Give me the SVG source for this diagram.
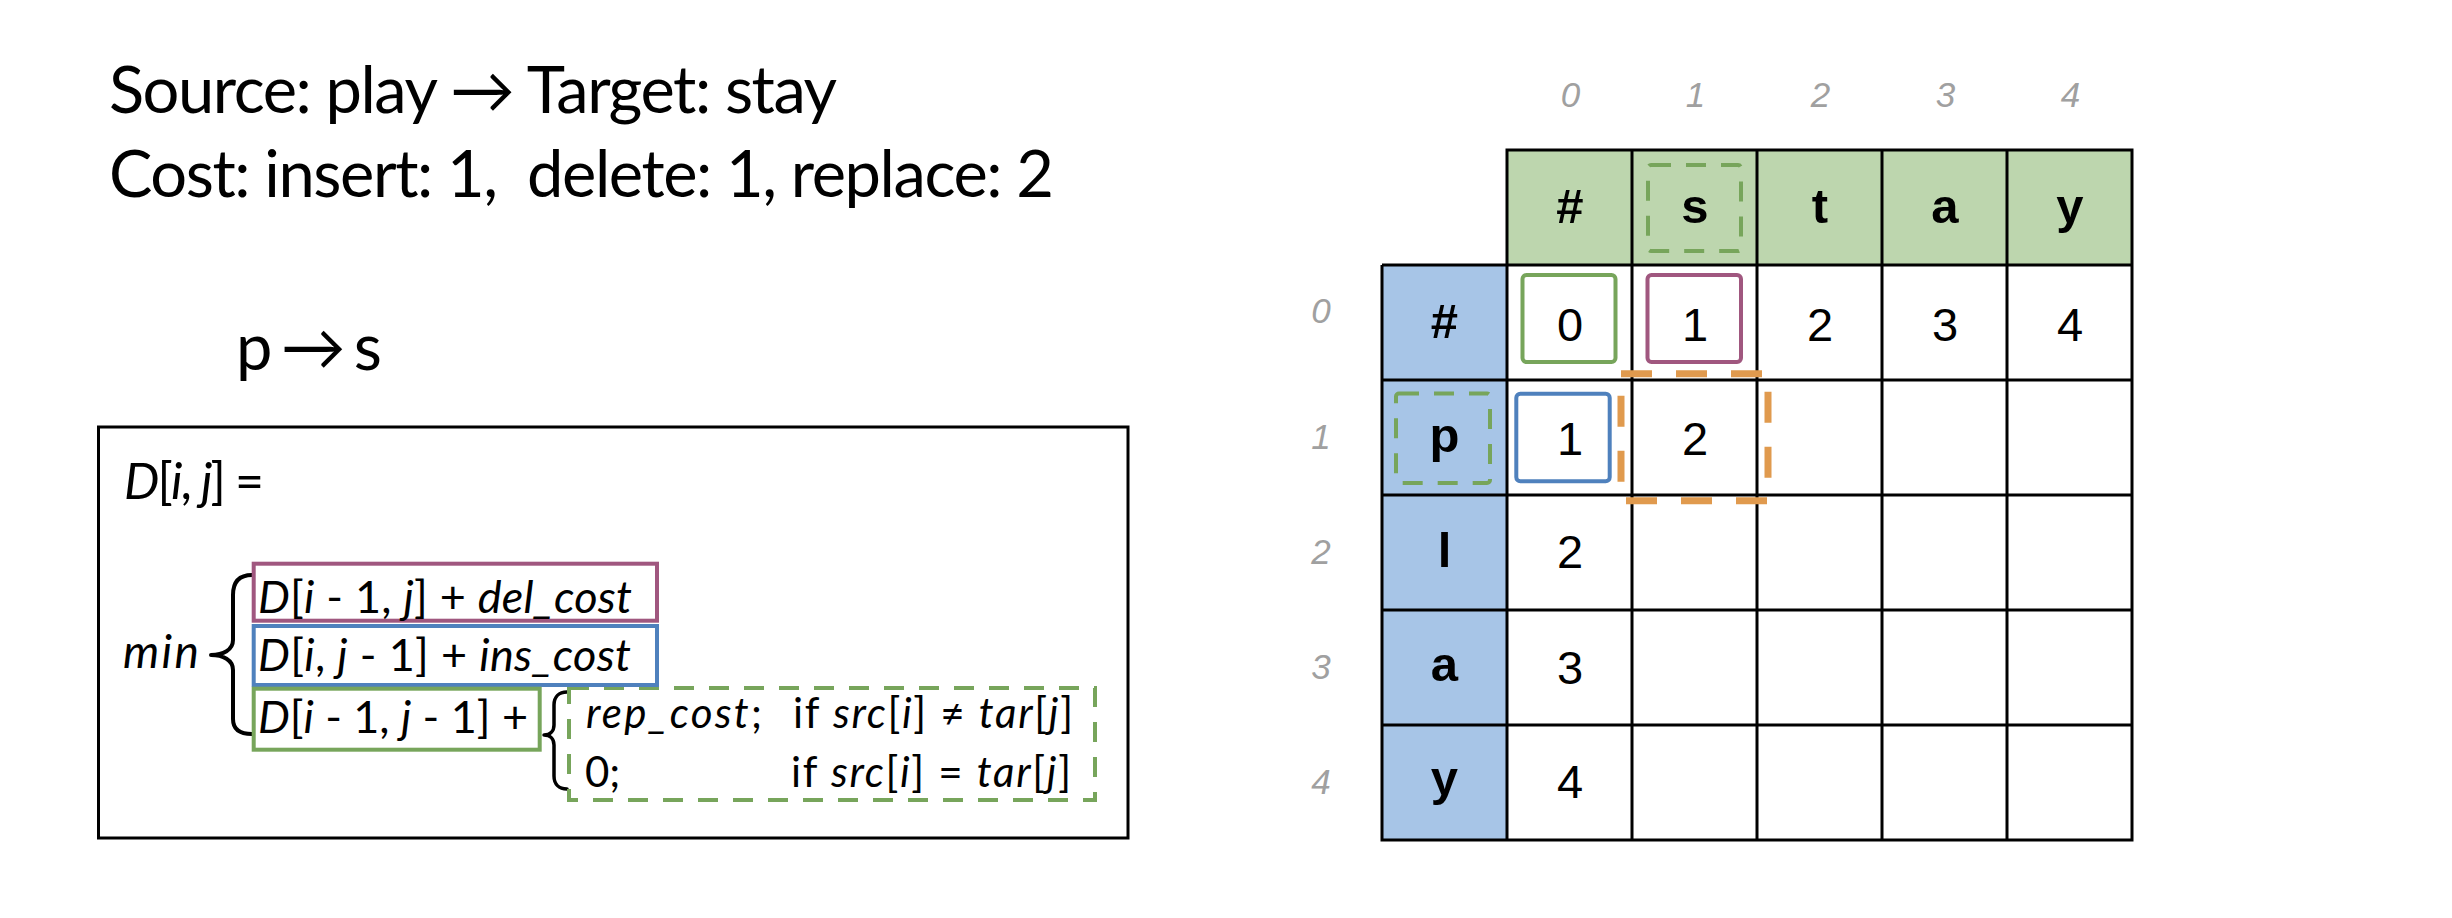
<svg xmlns="http://www.w3.org/2000/svg" width="2452" height="918" viewBox="0 0 2452 918">
<style>
.lato{font-family:Lato,"Open Sans","DejaVu Sans",sans-serif;fill:#000}
.it{font-style:italic}
.ar{font-family:"Liberation Sans",Arial,sans-serif;fill:#000;text-anchor:middle}
.hd{font-weight:bold;font-size:49px}
.num{font-size:47px}
.idx{font-family:"Liberation Sans",Arial,sans-serif;font-style:italic;font-size:35px;fill:#A0A0A0;text-anchor:middle}
.grid{fill:none;stroke:#000;stroke-width:3}
.hl{fill:none;stroke-width:4}
.green{stroke:#77A55B}
.purple{stroke:#A0577F}
.blue{stroke:#4F81BD}
.dash{stroke-dasharray:20 15}
.orange{fill:none;stroke:#E09A4E;stroke-width:7;stroke-dasharray:31 24}
.brace{fill:none;stroke:#000;stroke-width:4;stroke-linecap:round;stroke-linejoin:round}
</style>
<rect width="2452" height="918" fill="#fff"/>

<g id="title">
<text class="lato" x="109" y="113" font-size="65" textLength="728">Source: play → Target: stay</text>
<text class="lato" x="109" y="197" font-size="65" textLength="945" xml:space="preserve">Cost: insert: 1,  delete: 1, replace: 2</text>
</g>

<g id="subproblem">
<text class="lato" x="236" y="370" font-size="65" textLength="146">p → s</text>
</g>

<g id="formula">
<rect x="98.5" y="427" width="1029.5" height="411" fill="#fff" stroke="#000" stroke-width="3"/>
<text class="lato" x="124" y="499" font-size="50" textLength="140"><tspan class="it">D</tspan>[<tspan class="it">i</tspan>, <tspan class="it">j</tspan>] =</text>
<text class="lato it" x="123" y="668" font-size="46" textLength="76">min</text>
<path class="brace" d="M252 575 C239 575 233 582 233 595 L233 640 C233 650 223 655 211 655 C223 655 233 660 233 670 L233 719 C233 729 239 734 252 734"/>
<path class="brace" style="stroke-width:3.5" d="M567 692 C559 692 554 697 554 705 L554 725 C554 731 550 735 544 735 C550 735 554 739 554 745 L554 776 C554 784 559 789 567 789"/>
<rect class="hl green dash" x="569" y="688" width="526" height="112"/>
<rect class="hl purple" x="253.7" y="563.7" width="403.3" height="57"/>
<rect class="hl blue" x="253.7" y="626" width="403.3" height="59"/>
<rect class="hl green" x="253.7" y="688.7" width="286" height="61"/>
<text class="lato" x="258" y="613" font-size="45" textLength="374"><tspan class="it">D</tspan>[<tspan class="it">i</tspan> - 1, <tspan class="it">j</tspan>] + <tspan class="it">del_cost</tspan></text>
<text class="lato" x="258" y="671" font-size="45" textLength="373"><tspan class="it">D</tspan>[<tspan class="it">i</tspan>, <tspan class="it">j</tspan> - 1] + <tspan class="it">ins_cost</tspan></text>
<text class="lato" x="258" y="733" font-size="45" textLength="270"><tspan class="it">D</tspan>[<tspan class="it">i</tspan> - 1, <tspan class="it">j</tspan> - 1] +</text>
<text class="lato" x="586" y="728" font-size="42" textLength="176"><tspan class="it">rep_cost</tspan>;</text>
<text class="lato" x="793" y="728" font-size="42" textLength="280">if <tspan class="it">src</tspan>[<tspan class="it">i</tspan>] ≠ <tspan class="it">tar</tspan>[<tspan class="it">j</tspan>]</text>
<text class="lato" x="585" y="787" font-size="42">0;</text>
<text class="lato" x="791" y="787" font-size="42" textLength="280">if <tspan class="it">src</tspan>[<tspan class="it">i</tspan>] = <tspan class="it">tar</tspan>[<tspan class="it">j</tspan>]</text>
</g>

<g id="table">
<g id="col-index">
<text class="idx" x="1570.5" y="107">0</text>
<text class="idx" x="1695.5" y="107">1</text>
<text class="idx" x="1820.5" y="107">2</text>
<text class="idx" x="1945.5" y="107">3</text>
<text class="idx" x="2070.5" y="107">4</text>
</g>
<g id="row-index">
<text class="idx" x="1321" y="323">0</text>
<text class="idx" x="1321" y="449">1</text>
<text class="idx" x="1321" y="564">2</text>
<text class="idx" x="1321" y="679">3</text>
<text class="idx" x="1321" y="794">4</text>
</g>
<g id="fills">
<rect x="1507" y="150" width="625" height="115" fill="#BDD6AE"/>
<rect x="1382" y="265" width="125" height="575" fill="#A7C5E7"/>
<rect x="1507" y="265" width="625" height="575" fill="#fff"/>
</g>
<path class="grid" d="M1507 150H2132M1382 265H2132M1382 380H2132M1382 495H2132M1382 610H2132M1382 725H2132M1380.5 840H2133.5M1382 265V841.5M1507 148.5V841.5M1632 150V840M1757 150V840M1882 150V840M2007 150V840M2132 148.5V841.5"/>
<g id="header">
<text class="ar hd" x="1570" y="223">#</text>
<text class="ar hd" x="1695" y="223">s</text>
<text class="ar hd" x="1820" y="223">t</text>
<text class="ar hd" x="1945" y="223">a</text>
<text class="ar hd" x="2070" y="223">y</text>
</g>
<g id="row-header">
<text class="ar hd" x="1444.5" y="338">#</text>
<text class="ar hd" x="1444.5" y="452">p</text>
<text class="ar hd" x="1444.5" y="567">l</text>
<text class="ar hd" x="1444.5" y="681">a</text>
<text class="ar hd" x="1444.5" y="795">y</text>
</g>
<g id="values">
<text class="ar num" x="1570" y="341">0</text>
<text class="ar num" x="1695" y="341">1</text>
<text class="ar num" x="1820" y="341">2</text>
<text class="ar num" x="1945" y="341">3</text>
<text class="ar num" x="2070" y="341">4</text>
<text class="ar num" x="1570" y="455">1</text>
<text class="ar num" x="1695" y="455">2</text>
<text class="ar num" x="1570" y="568">2</text>
<text class="ar num" x="1570" y="684">3</text>
<text class="ar num" x="1570" y="798">4</text>
</g>
</g>

<g id="highlights">
<rect class="hl green" x="1522.5" y="275" width="93" height="87" rx="4"/>
<rect class="hl purple" x="1647.5" y="275" width="93.5" height="87" rx="4"/>
<rect class="hl blue" x="1516.3" y="393.7" width="93.4" height="87.6" rx="4"/>
<rect class="hl green dash" x="1648" y="165" width="93" height="86" rx="3"/>
<rect class="hl green dash" x="1396" y="393.5" width="94" height="89.5" rx="3"/>
<rect class="orange" x="1621" y="373.7" width="147" height="127"/>
</g>
</svg>
